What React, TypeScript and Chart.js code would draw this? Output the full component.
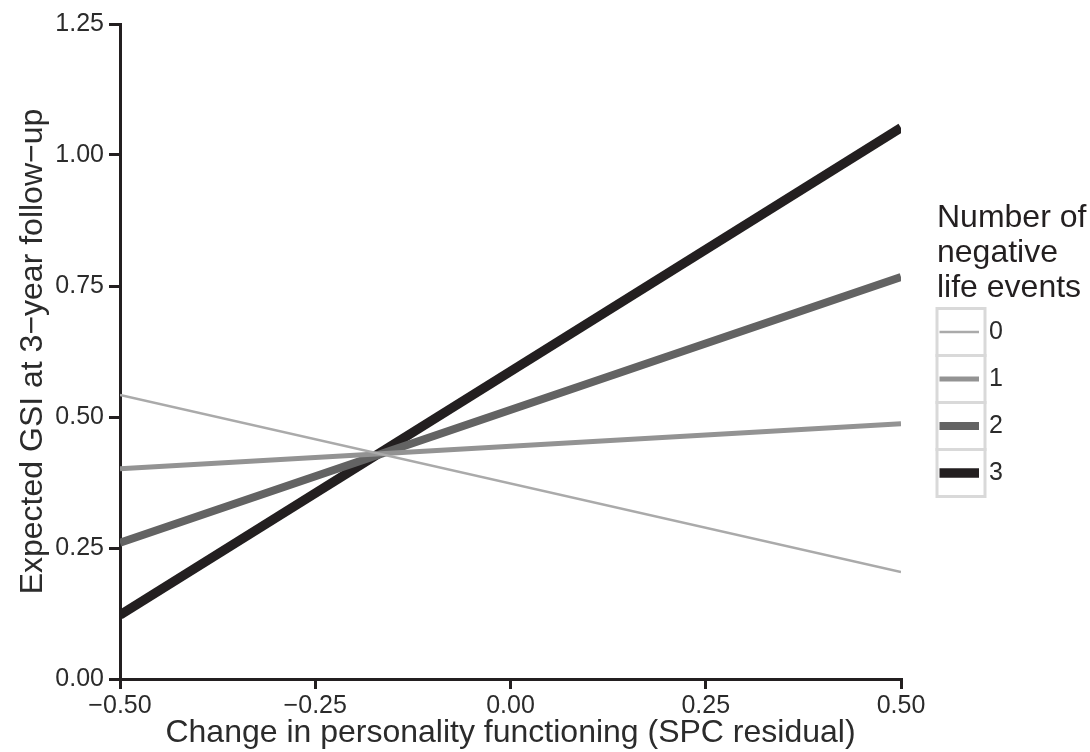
import React, { useEffect, useRef } from "react";
import { Chart, registerables } from "chart.js";

Chart.register(...registerables);

const xValues = [-0.5, 0.5];
const seriesLabels = ["0", "1", "2", "3"];
const events0 = [0.542, 0.204];
const events1 = [0.401, 0.487];
const events2 = [0.26, 0.767];
const events3 = [0.122, 1.052];
const xTickLabels = ["\u22120.50", "\u22120.25", "0.00", "0.25", "0.50"];
const yTickLabels = ["0.00", "0.25", "0.50", "0.75", "1.00", "1.25"];
const legendTitle = ["Number of", "negative", "life events"];

const seriesColors = ["#aaaaaa", "#939393", "#636363", "#231f20"];
const seriesWidths = [2.5, 5, 8, 9.5];
const FONT = "'Liberation Sans', Arial, Helvetica, sans-serif";
const AXIS = "#231f20";
const TEXT = "#2b2b2b";

const legendPlugin = {
  id: "customLegend",
  afterDraw(chart: any) {
    const ctx = chart.ctx;
    ctx.save();
    ctx.fillStyle = "#231f20";
    ctx.font = `32px ${FONT}`;
    ctx.textAlign = "left";
    ctx.textBaseline = "alphabetic";
    const baselines = [227, 262, 297];
    legendTitle.forEach((t, i) => ctx.fillText(t, 937, baselines[i]));
    const top = 308.5;
    const keyH = 47;
    const left = 937;
    const keyW = 48;
    seriesLabels.forEach((lab, i) => {
      const y0 = top + i * keyH;
      ctx.fillStyle = "#ffffff";
      ctx.fillRect(left, y0, keyW, keyH);
      ctx.strokeStyle = "#d9d9d9";
      ctx.lineWidth = 3;
      ctx.strokeRect(left, y0, keyW, keyH);
      const cy = y0 + keyH / 2;
      ctx.strokeStyle = seriesColors[i];
      ctx.lineWidth = seriesWidths[i];
      ctx.lineCap = "butt";
      ctx.beginPath();
      ctx.moveTo(left + 2.5, cy);
      ctx.lineTo(left + keyW - 6, cy);
      ctx.stroke();
      ctx.fillStyle = TEXT;
      ctx.font = `25px ${FONT}`;
      ctx.textBaseline = "middle";
      ctx.fillText(lab, 989, cy);
      ctx.textBaseline = "alphabetic";
    });
    ctx.restore();
  },
};

export default function App() {
  const ref = useRef<HTMLCanvasElement>(null);
  useEffect(() => {
    document.body.style.margin = "0";
    const allSeries = [events0, events1, events2, events3];
    const chart = new Chart(ref.current as HTMLCanvasElement, {
      type: "line",
      data: {
        datasets: allSeries.map((vals, i) => ({
          label: seriesLabels[i],
          data: xValues.map((x, j) => ({ x, y: vals[j] })),
          borderColor: seriesColors[i],
          borderWidth: seriesWidths[i],
          pointRadius: 0,
          borderCapStyle: "butt" as const,
          tension: 0,
        })),
      },
      options: {
        responsive: false,
        animation: false,
        layout: { padding: { left: 0, top: 24, right: 189, bottom: 0 } },
        plugins: { legend: { display: false }, tooltip: { enabled: false } },
        scales: {
          x: {
            type: "linear",
            min: -0.5,
            max: 0.5,
            ticks: {
              stepSize: 0.25,
              color: TEXT,
              font: { family: FONT, size: 25 },
              padding: 2,
              maxRotation: 0,
              callback: (_v: any, i: number) => xTickLabels[i],
            },
            grid: {
              drawOnChartArea: false,
              drawTicks: true,
              tickLength: 10,
              color: AXIS,
              lineWidth: 3,
            },
            border: { display: true, color: AXIS, width: 3 },
            title: {
              display: true,
              text: "Change in personality functioning (SPC residual)",
              color: TEXT,
              font: { family: FONT, size: 32 },
              padding: { top: 0, bottom: 0 },
            },
            afterFit: (s: any) => {
              s.height = 73;
            },
          },
          y: {
            type: "linear",
            min: 0,
            max: 1.25,
            ticks: {
              stepSize: 0.25,
              color: TEXT,
              font: { family: FONT, size: 25 },
              padding: 5,
              callback: (_v: any, i: number) => yTickLabels[i],
            },
            grid: {
              drawOnChartArea: false,
              drawTicks: true,
              tickLength: 11,
              color: AXIS,
              lineWidth: 3,
            },
            border: { display: true, color: AXIS, width: 3 },
            title: {
              display: true,
              text: "Expected GSI at 3\u2212year follow\u2212up",
              color: TEXT,
              font: { family: FONT, size: 32 },
              padding: { top: 14, bottom: 0 },
            },
            afterFit: (s: any) => {
              s.width = 120;
            },
          },
        },
      },
      plugins: [legendPlugin],
    });
    return () => chart.destroy();
  }, []);
  return (
    <canvas
      ref={ref}
      width={1090}
      height={752}
      style={{ display: "block", width: 1090, height: 752 }}
    />
  );
}
